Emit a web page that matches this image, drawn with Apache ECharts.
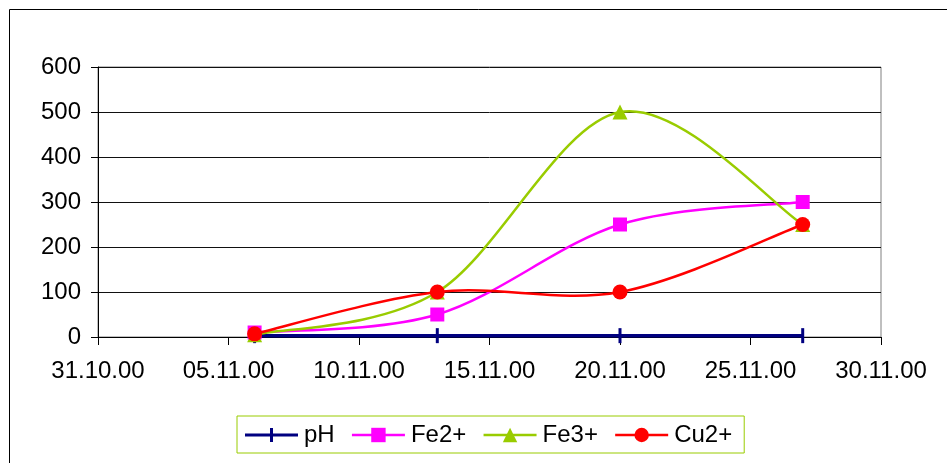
<!DOCTYPE html>
<html><head><meta charset="utf-8">
<script src="https://cdn.jsdelivr.net/npm/echarts@6/dist/echarts.min.js"></script>
<style>html,body{margin:0;padding:0;background:#fff}#c{width:947px;height:463px}</style>
</head><body><div id="c"></div>
<script>
const startDate = '2000-10-31';
const dates = ['2000-11-06', '2000-11-13', '2000-11-20', '2000-11-27'];
const pH = [3, 3, 3, 3];
const fe2 = [10, 50, 250, 300];
const fe3 = [5, 100, 500, 250];
const cu2 = [7, 100, 100, 250];
const yTicks = [0, 100, 200, 300, 400, 500, 600];

const DAY = 86400000;
const t0 = Date.parse(startDate + 'T00:00:00Z');
const dayOf = s => (Date.parse(s + 'T00:00:00Z') - t0) / DAY;
const pts = vals => dates.map((d, i) => [dayOf(d), vals[i]]);
const fmt = v => {
  const d = new Date(t0 + v * DAY);
  const p = n => String(n).padStart(2, '0');
  return p(d.getUTCDate()) + '.' + p(d.getUTCMonth() + 1) + '.' + String(d.getUTCFullYear()).slice(2);
};
const FONT = 'Liberation Sans';

// Excel-like smoothed curve (Catmull-Rom Bezier in screen space) via the chart's own coordinate system
function curveSeries(name, vals, color, width, z) {
  const data = pts(vals);
  return {
    name: name + ' curve', type: 'custom', data: data, z: z, silent: true,
    encode: {x: 0, y: 1},
    renderItem: (params, api) => {
      const i = params.dataIndex;
      const n = data.length;
      if (i >= n - 1) return null;
      const P = data.map(d => api.coord(d));
      const p0 = P[Math.max(i - 1, 0)], p1 = P[i], p2 = P[i + 1], p3 = P[Math.min(i + 2, n - 1)];
      return {
        type: 'bezierCurve',
        shape: {
          x1: p1[0], y1: p1[1], x2: p2[0], y2: p2[1],
          cpx1: p1[0] + (p2[0] - p0[0]) / 6, cpy1: p1[1] + (p2[1] - p0[1]) / 6,
          cpx2: p2[0] - (p3[0] - p1[0]) / 6, cpy2: p2[1] - (p3[1] - p1[1]) / 6
        },
        style: {stroke: color, lineWidth: width, fill: null}
      };
    }
  };
}
function markerSeries(name, vals, color, symbol, size, z) {
  return {name: name, type: 'line', data: pts(vals), symbol: symbol, symbolSize: size,
    showAllSymbol: true, itemStyle: {color: color}, lineStyle: {color: color, width: 2, opacity: 0}, z: z};
}
const legendItem = (name, color, width, icon) => {
  const o = {name: name, lineStyle: {color: color, width: width, opacity: 1}};
  if (icon) { o.icon = icon; o.itemStyle = {color: color}; }
  return o;
};
const PH_ICON = 'path://M0 0H0.01V0.01H0Z M0 7.5H53V10.5H0Z M25 2H28V16H25Z M52.99 17.99H53V18H52.99Z';

const chart = echarts.init(document.getElementById('c'), null, {renderer: 'canvas'});
chart.setOption({
  animation: false,
  backgroundColor: '#fff',
  textStyle: {fontFamily: FONT},
  graphic: [{type: 'rect', silent: true, shape: {x: 9.5, y: 9.5, width: 1000, height: 1000},
    style: {fill: 'none', stroke: '#000', lineWidth: 1}}],
  grid: {left: 98, top: 67, right: 66, bottom: 126, show: true, borderColor: '#808080', borderWidth: 1},
  xAxis: {
    type: 'value', min: 0, max: 30, interval: 5,
    axisLine: {lineStyle: {color: '#000', width: 1}},
    axisTick: {show: true, length: 8, lineStyle: {color: '#000'}},
    axisLabel: {formatter: fmt, fontSize: 24, color: '#000', margin: 22, fontFamily: FONT},
    splitLine: {show: false}
  },
  yAxis: {
    type: 'value', min: yTicks[0], max: yTicks[yTicks.length - 1], interval: 100,
    axisLine: {show: true, lineStyle: {color: '#000'}},
    axisTick: {show: true, length: 7, lineStyle: {color: '#000'}},
    axisLabel: {fontSize: 24, color: '#000', margin: 17, fontFamily: FONT},
    splitLine: {show: true, lineStyle: {color: '#111', width: 1}}
  },
  legend: {
    left: 237, top: 416, orient: 'horizontal',
    borderColor: '#99cc00', borderWidth: 1, borderRadius: 0,
    padding: [7, 12, 6, 8], itemGap: 16, itemWidth: 53, itemHeight: 18,
    textStyle: {fontSize: 24, color: '#000', fontFamily: FONT, padding: [0, 0, 0, 1]},
    data: [legendItem('pH', '#000080', 3, PH_ICON), legendItem('Fe2+', '#ff00ff', 2.5),
           legendItem('Fe3+', '#99cc00', 2.5), legendItem('Cu2+', '#ff0000', 2.5)]
  },
  series: [
    curveSeries('pH', pH, '#000080', 3.5, 2),
    markerSeries('pH', pH, '#000080', 'rect', [3, 15], 3),
    curveSeries('Fe2+', fe2, '#ff00ff', 2.5, 4),
    markerSeries('Fe2+', fe2, '#ff00ff', 'rect', 14, 5),
    curveSeries('Fe3+', fe3, '#99cc00', 2.5, 6),
    markerSeries('Fe3+', fe3, '#99cc00', 'triangle', 15, 7),
    curveSeries('Cu2+', cu2, '#ff0000', 2.5, 8),
    markerSeries('Cu2+', cu2, '#ff0000', 'circle', 15, 9)
  ]
});
</script></body></html>
